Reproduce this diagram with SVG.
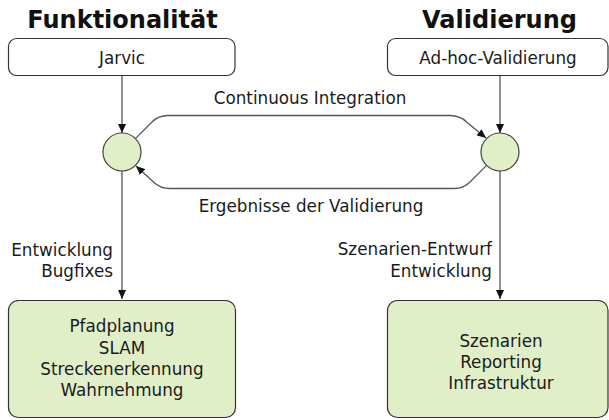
<svg xmlns="http://www.w3.org/2000/svg" width="609" height="420" viewBox="0 0 609 420">
<style>
text{font-family:"DejaVu Sans","Liberation Sans",sans-serif;font-size:16.8px;fill:#1a1a1a}
.title{font-size:24px;font-weight:bold;text-anchor:middle;fill:#111}
.c{text-anchor:middle}
.r{text-anchor:end}
.box{fill:#ffffff;stroke:#333;stroke-width:1.2}
.gbox{fill:#e1efc9;stroke:#333;stroke-width:1.2}
.circ{fill:#e1efc9;stroke:#444;stroke-width:1.2}
.edge{fill:none;stroke:#555;stroke-width:1.3;marker-end:url(#arr)}
</style>
<defs>
<marker id="arr" markerUnits="userSpaceOnUse" markerWidth="9" markerHeight="8" refX="9" refY="4" orient="auto">
<path d="M0,0 L9,4 L0,8 z" fill="#111"/>
</marker>
</defs>
<text class="title" x="122.5" y="27.5">Funktionalität</text>
<text class="title" x="499.5" y="27.5">Validierung</text>
<g id="connectors">
<path class="edge" d="M122,76 L122,133"/>
<path class="edge" d="M500,76 L500,133"/>
<path class="edge" d="M122,171 L122,299"/>
<path class="edge" d="M500,171 L500,299"/>
<path class="edge" d="M135.4,138.6 L152,122 Q158.5,115.5 168,115.5 L450,115.5 Q460,115.5 466.5,122 L486,138"/>
<path class="edge" d="M486.6,165.4 L470,182 Q463.5,188.5 454,188.5 L170,188.5 Q160,188.5 153.5,182 L136,166"/>
<text class="c" x="310" y="104">Continuous Integration</text>
<text class="c" x="311" y="212">Ergebnisse der Validierung</text>
<text class="r" x="113" y="256">Entwicklung</text>
<text class="r" x="113" y="277">Bugfixes</text>
<text class="r" x="492" y="255">Szenarien-Entwurf</text>
<text class="r" x="492" y="277">Entwicklung</text>
</g>
<g id="jarvic">
<rect class="box" x="8.5" y="38.5" width="226.5" height="37" rx="8"/>
<text class="c" x="122" y="64">Jarvic</text>
</g>
<g id="adhoc">
<rect class="box" x="387.5" y="38.5" width="220.5" height="37" rx="8"/>
<text class="c" x="498" y="64">Ad-hoc-Validierung</text>
</g>
<g id="merge-left">
<circle class="circ" cx="122" cy="152" r="19"/>
</g>
<g id="merge-right">
<circle class="circ" cx="500" cy="152" r="19"/>
</g>
<g id="funktionen">
<rect class="gbox" x="8.5" y="300.5" width="227" height="117" rx="10"/>
<text class="c" x="122" y="332">Pfadplanung</text>
<text class="c" x="122" y="354">SLAM</text>
<text class="c" x="122" y="375">Streckenerkennung</text>
<text class="c" x="122" y="396">Wahrnehmung</text>
</g>
<g id="validierung">
<rect class="gbox" x="387.5" y="300.5" width="220.5" height="117" rx="10"/>
<text class="c" x="501" y="347">Szenarien</text>
<text class="c" x="501" y="368">Reporting</text>
<text class="c" x="501" y="389">Infrastruktur</text>
</g>
</svg>
